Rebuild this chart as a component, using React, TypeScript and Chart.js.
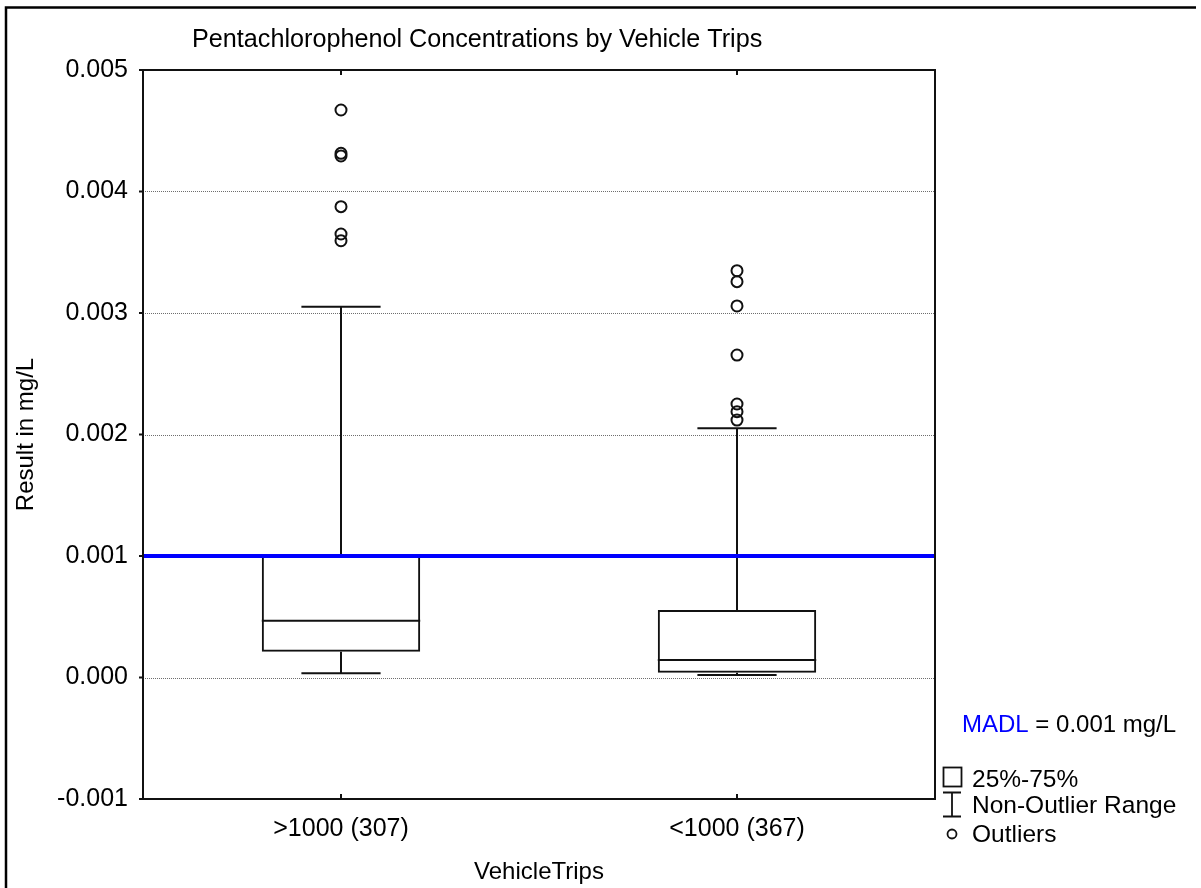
import React, { useEffect, useRef } from 'react';
import { Chart, registerables } from 'chart.js';
Chart.register(...registerables);

// ---- Data ----
const categories = ['>1000 (307)', '<1000 (367)'];
const q1Values = [0.000212, 0.00004];
const medianValues = [0.000467, 0.000144];
const q3Values = [0.001, 0.000556];
const whiskerLow = [0.000035, 0.000021];
const whiskerHigh = [0.003052, 0.002051];
const outliersGroup1 = [0.004671, 0.004314, 0.004292, 0.003875, 0.00365, 0.003595];
const outliersGroup2 = [0.003348, 0.003258, 0.003058, 0.002654, 0.002251, 0.002188, 0.002119];
const madlValue = 0.001;
const yMin = -0.001;
const yMax = 0.005;
const yStep = 0.001;

const chartTitle = 'Pentachlorophenol Concentrations by Vehicle Trips';
const xTitle = 'VehicleTrips';
const yTitle = 'Result in mg/L';

const FONT = "'Liberation Sans', Arial, Helvetica, sans-serif";
const LINE = '#111';

const boxPlugin = {
  id: 'boxExtras',
  beforeDatasetsDraw(chart: any) {
    const { ctx, chartArea: a, scales } = chart;
    const y = scales.y;
    const x = scales.x;
    ctx.save();
    // dotted gridlines
    ctx.strokeStyle = '#6e6e6e';
    ctx.lineWidth = 1;
    ctx.setLineDash([1, 1]);
    y.ticks.forEach((t: any) => {
      const py = Math.round(y.getPixelForValue(t.value)) + 0.5;
      ctx.beginPath();
      ctx.moveTo(a.left, py);
      ctx.lineTo(a.right, py);
      ctx.stroke();
    });
    ctx.setLineDash([]);
    // whiskers
    const meta = chart.getDatasetMeta(0);
    ctx.strokeStyle = LINE;
    ctx.lineWidth = 2;
    categories.forEach((_, i) => {
      const px = x.getPixelForValue(i);
      const bw = meta.data[i] ? meta.data[i].width : 160;
      const cap = bw / 4;
      const pHi = y.getPixelForValue(whiskerHigh[i]);
      const pLo = y.getPixelForValue(whiskerLow[i]);
      const pQ3 = y.getPixelForValue(q3Values[i]);
      const pQ1 = y.getPixelForValue(q1Values[i]);
      ctx.beginPath();
      ctx.moveTo(px, pQ3);
      ctx.lineTo(px, pHi);
      ctx.moveTo(px - cap, pHi);
      ctx.lineTo(px + cap, pHi);
      ctx.moveTo(px, pQ1);
      ctx.lineTo(px, pLo);
      ctx.moveTo(px - cap, pLo);
      ctx.lineTo(px + cap, pLo);
      ctx.stroke();
    });
    ctx.restore();
  },
  afterDatasetsDraw(chart: any) {
    const { ctx, chartArea: a, scales } = chart;
    const y = scales.y;
    const x = scales.x;
    const meta = chart.getDatasetMeta(0);
    ctx.save();
    // medians
    ctx.strokeStyle = LINE;
    ctx.lineWidth = 2;
    categories.forEach((_, i) => {
      const px = x.getPixelForValue(i);
      const bw = meta.data[i] ? meta.data[i].width : 160;
      const pm = y.getPixelForValue(medianValues[i]);
      ctx.beginPath();
      ctx.moveTo(px - bw / 2, pm);
      ctx.lineTo(px + bw / 2, pm);
      ctx.stroke();
    });
    // MADL line
    const pMadl = y.getPixelForValue(madlValue);
    ctx.strokeStyle = '#0000ff';
    ctx.lineWidth = 4;
    ctx.beginPath();
    ctx.moveTo(a.left, pMadl);
    ctx.lineTo(a.right, pMadl);
    ctx.stroke();
    // frame
    ctx.strokeStyle = LINE;
    ctx.lineWidth = 2;
    ctx.strokeRect(a.left, a.top, a.right - a.left, a.bottom - a.top);
    // y ticks (outward)
    y.ticks.forEach((t: any) => {
      const py = y.getPixelForValue(t.value);
      ctx.beginPath();
      ctx.moveTo(a.left - 4, py);
      ctx.lineTo(a.left, py);
      ctx.stroke();
    });
    // x ticks (inward, top and bottom)
    categories.forEach((_, i) => {
      const px = x.getPixelForValue(i);
      ctx.beginPath();
      ctx.moveTo(px, a.bottom);
      ctx.lineTo(px, a.bottom - 5);
      ctx.moveTo(px, a.top);
      ctx.lineTo(px, a.top + 5);
      ctx.stroke();
    });
    ctx.restore();
  },
  afterDraw(chart: any) {
    const { ctx } = chart;
    ctx.save();
    // page frame (top and left)
    ctx.strokeStyle = '#000';
    ctx.lineWidth = 2.5;
    ctx.beginPath();
    ctx.moveTo(6, 900);
    ctx.lineTo(6, 7.5);
    ctx.lineTo(1196, 7.5);
    ctx.stroke();
    // title
    ctx.fillStyle = '#000';
    ctx.textBaseline = 'alphabetic';
    ctx.textAlign = 'left';
    ctx.font = `25.2px ${FONT}`;
    ctx.fillText(chartTitle, 192, 47);
    // MADL annotation
    ctx.font = `24px ${FONT}`;
    ctx.fillStyle = '#0000ff';
    ctx.fillText('MADL', 962, 732);
    const w = ctx.measureText('MADL').width;
    ctx.fillStyle = '#000';
    ctx.fillText(' = 0.001 mg/L', 962 + w, 732);
    // legend glyphs
    ctx.strokeStyle = LINE;
    ctx.lineWidth = 1.8;
    ctx.strokeRect(943.5, 767.5, 18, 19);
    ctx.beginPath();
    ctx.moveTo(943, 792.5);
    ctx.lineTo(961, 792.5);
    ctx.moveTo(952, 792.5);
    ctx.lineTo(952, 816.5);
    ctx.moveTo(943, 816.5);
    ctx.lineTo(961, 816.5);
    ctx.stroke();
    ctx.beginPath();
    ctx.arc(952, 834, 4.5, 0, Math.PI * 2);
    ctx.stroke();
    ctx.fillStyle = '#000';
    ctx.font = `24.5px ${FONT}`;
    ctx.fillText('25%-75%', 972, 787);
    ctx.fillText('Non-Outlier Range', 972, 813);
    ctx.fillText('Outliers', 972, 842);
    ctx.restore();
  },
};

export default function App() {
  const ref = useRef<HTMLCanvasElement>(null);
  useEffect(() => {
    document.body.style.margin = '0';
    const canvas = ref.current;
    if (!canvas) return;
    const outlierPoints = [
      ...outliersGroup1.map((v) => ({ x: categories[0], y: v })),
      ...outliersGroup2.map((v) => ({ x: categories[1], y: v })),
    ];
    const chart = new Chart(canvas, {
      type: 'bar',
      data: {
        labels: categories,
        datasets: [
          {
            type: 'bar',
            data: categories.map((_, i) => [q1Values[i], q3Values[i]]) as any,
            backgroundColor: 'rgba(255,255,255,0)',
            borderColor: LINE,
            borderWidth: 2,
            borderSkipped: false,
            barPercentage: 0.4,
            categoryPercentage: 1.0,
          } as any,
          {
            type: 'line',
            data: outlierPoints as any,
            showLine: false,
            pointRadius: 5.5,
            pointBorderWidth: 2,
            pointBorderColor: LINE,
            pointBackgroundColor: 'rgba(255,255,255,0)',
            pointStyle: 'circle',
          } as any,
        ],
      },
      options: {
        responsive: false,
        animation: false,
        events: [],
        layout: { padding: { left: 8, top: 70, right: 266, bottom: 0 } },
        plugins: {
          legend: { display: false },
          tooltip: { enabled: false },
          title: { display: false },
        },
        scales: {
          x: {
            type: 'category',
            offset: true,
            grid: { display: false, drawTicks: false },
            border: { display: false },
            ticks: {
              color: '#000',
              font: { size: 25, family: FONT },
              padding: 15,
              maxRotation: 0,
              autoSkip: false,
            },
            title: {
              display: true,
              text: xTitle,
              color: '#000',
              font: { size: 24, family: FONT },
              padding: { top: 0, bottom: 1 },
            },
            afterFit: (s: any) => {
              s.height = 89;
            },
          },
          y: {
            type: 'linear',
            min: yMin,
            max: yMax,
            grid: { display: false, drawTicks: false },
            border: { display: false },
            ticks: {
              stepSize: yStep,
              color: '#000',
              font: { size: 25, family: FONT },
              padding: 15,
              callback: (v: any) => Number(v).toFixed(3),
            },
            title: {
              display: true,
              text: yTitle,
              color: '#000',
              font: { size: 24, family: FONT },
              padding: { top: 4, bottom: 0 },
            },
            afterFit: (s: any) => {
              s.width = 135;
            },
          },
        },
      } as any,
      plugins: [boxPlugin],
    });
    return () => chart.destroy();
  }, []);
  return (
    <div style={{ width: 1201, height: 888, background: '#fff', position: 'relative' }}>
      <canvas ref={ref} width={1201} height={888} style={{ display: 'block', width: 1201, height: 888 }} />
    </div>
  );
}
